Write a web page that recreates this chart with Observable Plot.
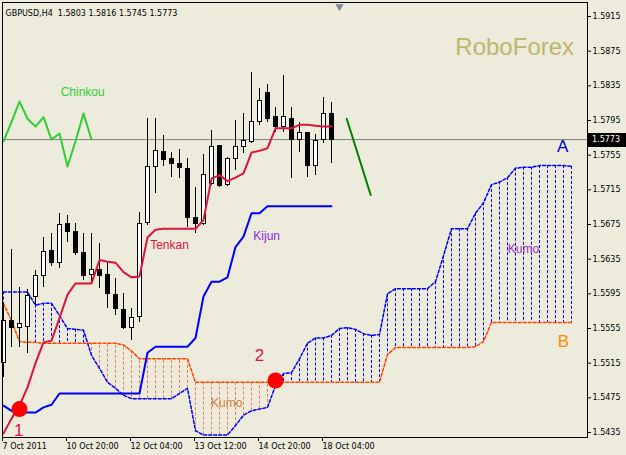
<!DOCTYPE html>
<html><head><meta charset="utf-8">
<script src="https://cdn.jsdelivr.net/npm/d3@7"></script>
<script src="https://cdn.jsdelivr.net/npm/@observablehq/plot@0.6"></script>
<style>
html,body{margin:0;padding:0;background:#ecebdc;}
#chart{width:626px;height:455px;overflow:hidden;}
</style></head><body><div id="chart"></div>
<script>
// ---------- data ----------
const symbol = "GBPUSD,H4";
const open  = [1.5515,1.5564,1.5556,1.5557,1.5591,1.5615,1.5644,1.5631,1.5676,1.5666,1.5642,1.5617,1.5622,1.5617,1.5594,1.5576,1.5556,1.5568,1.5677,1.5741,1.5759,1.5750,1.5745,1.5739,1.5683,1.5676,1.5722,1.5765,1.5721,1.5750,1.5764,1.5770,1.5793,1.5827,1.5799,1.5787,1.5797,1.5773,1.5780,1.5742,1.5773,1.5803];
const high  = [1.5584,1.5646,1.5602,1.5600,1.5622,1.5660,1.5665,1.5688,1.5685,1.5676,1.5665,1.5665,1.5653,1.5630,1.5613,1.5595,1.5578,1.5689,1.5797,1.5797,1.5778,1.5758,1.5762,1.5751,1.5718,1.5756,1.5784,1.5766,1.5752,1.5795,1.5803,1.5850,1.5832,1.5837,1.5810,1.5847,1.5810,1.5793,1.5781,1.5779,1.5822,1.5816];
const low   = [1.5499,1.5533,1.5533,1.5526,1.5582,1.5602,1.5627,1.5624,1.5654,1.5639,1.5610,1.5607,1.5601,1.5578,1.5570,1.5554,1.5541,1.5562,1.5674,1.5711,1.5742,1.5729,1.5728,1.5672,1.5665,1.5674,1.5720,1.5718,1.5719,1.5737,1.5757,1.5769,1.5789,1.5793,1.5781,1.5781,1.5728,1.5758,1.5729,1.5732,1.5768,1.5745];
const close = [1.5564,1.5556,1.5560,1.5592,1.5616,1.5643,1.5630,1.5674,1.5666,1.5642,1.5616,1.5623,1.5615,1.5595,1.5577,1.5556,1.5567,1.5676,1.5741,1.5760,1.5749,1.5745,1.5740,1.5683,1.5675,1.5732,1.5764,1.5719,1.5750,1.5764,1.5771,1.5793,1.5817,1.5797,1.5788,1.5799,1.5773,1.5780,1.5742,1.5771,1.5803,1.5773];

const tenkan = [1.5434,1.5451,1.5466,1.5487,1.5515,1.5539,1.5541,1.5567,1.5594,1.5607,1.5607,1.5607,1.5634,1.5632,1.5631,1.5620,1.5614,1.5615,1.5660,1.5669,1.5670,1.5670,1.5670,1.5670,1.5670,1.5680,1.5728,1.5732,1.5725,1.5729,1.5734,1.5758,1.5760,1.5763,1.5786,1.5786,1.5786,1.5790,1.5790,1.5789,1.5788,1.5788];
const kijun  = [1.5466,1.5460,1.5458,1.5458,1.5458,1.5464,1.5467,1.5480,1.5480,1.5480,1.5480,1.5480,1.5480,1.5480,1.5480,1.5480,1.5480,1.5480,1.5527,1.5534,1.5534,1.5534,1.5534,1.5534,1.5544,1.5592,1.5609,1.5609,1.5614,1.5649,1.5661,1.5688,1.5688,1.5696,1.5696,1.5696,1.5696,1.5696,1.5696,1.5696,1.5696,1.5696];

const senkouA = [1.5597,1.5597,1.5597,1.5597,1.5582,1.5584,1.5584,1.5570,1.5555,1.5554,1.5553,1.5524,1.5509,1.5493,1.5486,1.5478,1.5474,1.5474,1.5474,1.5474,1.5474,1.5474,1.5480,1.5486,1.5437,1.5432,1.5432,1.5432,1.5432,1.5443,1.5455,1.5460,1.5462,1.5464,1.5489,1.5503,1.5504,1.5520,1.5538,1.5544,1.5544,1.5547,1.5555,1.5556,1.5554,1.5549,1.5547,1.5548,1.5595,1.5601,1.5601,1.5601,1.5601,1.5601,1.5609,1.5639,1.5670,1.5670,1.5670,1.5688,1.5700,1.5721,1.5724,1.5729,1.5740,1.5741,1.5741,1.5743,1.5743,1.5743,1.5743,1.5742];
const senkouB = [1.5584,1.5564,1.5540,1.5539,1.5539,1.5538,1.5538,1.5538,1.5538,1.5538,1.5538,1.5538,1.5538,1.5538,1.5538,1.5536,1.5529,1.5520,1.5520,1.5520,1.5520,1.5520,1.5520,1.5520,1.5493,1.5493,1.5493,1.5493,1.5493,1.5493,1.5493,1.5493,1.5493,1.5493,1.5493,1.5493,1.5493,1.5493,1.5493,1.5493,1.5493,1.5493,1.5493,1.5493,1.5493,1.5493,1.5493,1.5493,1.5525,1.5533,1.5533,1.5533,1.5533,1.5533,1.5533,1.5533,1.5533,1.5533,1.5533,1.5534,1.5540,1.5562,1.5562,1.5562,1.5562,1.5562,1.5562,1.5562,1.5562,1.5562,1.5562,1.5562];
const chinkouShift = 30;

const trendIdx   = [42.9, 45.9];
const trendPrice = [1.5797, 1.5709];

const crossIdx   = [2, 34];
const crossPrice = [1.5462, 1.5495];

const xTickIdx    = [0, 8, 16, 24, 32, 40];
const xTickLabels = ["7 Oct 2011", "10 Oct 20:00", "12 Oct 04:00", "13 Oct 12:00", "14 Oct 20:00", "18 Oct 04:00"];
const yTicks = [1.5435,1.5475,1.5515,1.5555,1.5595,1.5635,1.5675,1.5715,1.5755,1.5795,1.5835,1.5875,1.5915];

const labelText  = ["Chinkou", "Tenkan", "Kijun", "Kumo", "Kumo", "A", "B", "1", "2", "RoboForex"];
const labelIdx   = [9.9, 20.75, 32.9, 65, 27.9, 69.9, 70, 1.9, 32, 63.9];
const labelPrice = [1.5828, 1.5651, 1.5661, 1.5646, 1.5469, 1.5765, 1.5540, 1.5437, 1.5524, 1.5879];
const shiftIdx = 42;

// ---------- styles ----------
const labelStyle = {
  "Chinkou":   {fill: "#32cd32", size: 12},
  "Tenkan":    {fill: "#dc143c", size: 12},
  "Kijun":     {fill: "#8a2be2", size: 12},
  "Kumo":      null,
  "A":         {fill: "#0000cd", size: 17},
  "B":         {fill: "#ff8c00", size: 17},
  "1":         {fill: "#dc143c", size: 17},
  "2":         {fill: "#dc143c", size: 17},
  "RoboForex": {fill: "#bdb76b", size: 24}
};
const kumoColors = ["#9932cc", "#cd853f"]; // upper-right Kumo, lower Kumo

// ---------- tables ----------
const bars = open.map((o, i) => ({i, o, h: high[i], l: low[i], c: close[i]}));
const kumo = senkouA.map((a, i) => ({i, a, b: senkouB[i]}));
const ten = tenkan.map((v, i) => ({i, v}));
const kij = kijun.map((v, i) => ({i, v}));
const chi = close.slice(chinkouShift).map((v, k) => ({i: k, v}));
const trend = trendIdx.map((x, k) => ({i: x, v: trendPrice[k]}));
const crosses = crossIdx.map((x, k) => ({i: x, v: crossPrice[k]}));
const labels = labelText.map((t, k) => ({t, i: labelIdx[k], v: labelPrice[k], k}));
const last = bars[bars.length - 1];
const header = `${symbol}\u00a0 ${last.o.toFixed(4)} ${last.h.toFixed(4)} ${last.l.toFixed(4)} ${last.c.toFixed(4)}`;

const UI = "DejaVu Sans, Tahoma, sans-serif";
const TXT = "Liberation Sans, Arial, sans-serif";

let kumoCount = 0;
const labelMarks = labels.map(d => {
  let st = labelStyle[d.t];
  if (d.t === "Kumo") { st = {fill: kumoColors[kumoCount++], size: 12}; }
  return Plot.text([d], {x: "i", y: "v", text: "t", fill: st.fill, fontSize: st.size, fontFamily: TXT});
});

const chart = Plot.plot({
  width: 626, height: 455,
  marginLeft: 2, marginRight: 39, marginTop: 2, marginBottom: 18,
  style: {background: "#ecebdc", fontFamily: UI, fontSize: "8px", color: "black"},
  x: {domain: [-0.125, 73]},
  y: {domain: [1.542923, 1.593115]},
  marks: [
    // Kumo histogram
    Plot.ruleX(kumo.filter(d => d.a >= d.b), {x: "i", y1: "a", y2: "b", stroke: "#0000ff", strokeDasharray: "3,2", clip: true}),
    Plot.ruleX(kumo.filter(d => d.a < d.b), {x: "i", y1: "a", y2: "b", stroke: "#f07a58", strokeDasharray: "3,2", clip: true}),
    Plot.line(kumo, {x: "i", y: "a", stroke: "#0000ff", strokeDasharray: "3,2", clip: true}),
    Plot.line(kumo, {x: "i", y: "b", stroke: "#ff4500", strokeDasharray: "3,2", clip: true}),
    // current price line
    Plot.ruleY([last.c], {stroke: "#808080"}),
    // candles
    Plot.ruleX(bars, {x: "i", y1: "l", y2: "h", stroke: "black", shapeRendering: "crispEdges"}),
    Plot.rect(bars.filter(d => d.c >= d.o), {x1: d => d.i - 0.25, x2: d => d.i + 0.25, y1: "o", y2: "c", fill: "white", stroke: "black", shapeRendering: "crispEdges"}),
    Plot.rect(bars.filter(d => d.c < d.o), {x1: d => d.i - 0.25, x2: d => d.i + 0.25, y1: "o", y2: "c", fill: "black", stroke: "black", shapeRendering: "crispEdges"}),
    // Ichimoku lines
    Plot.line(ten, {x: "i", y: "v", stroke: "#dc143c", strokeWidth: 2, clip: true}),
    Plot.line(kij, {x: "i", y: "v", stroke: "#0000ff", strokeWidth: 2, clip: true}),
    Plot.line(chi, {x: "i", y: "v", stroke: "#32cd32", strokeWidth: 2, clip: true}),
    // trend line
    Plot.line(trend, {x: "i", y: "v", stroke: "#008000", strokeWidth: 2}),
    // crosses
    Plot.dot(crosses, {x: "i", y: "v", r: 8, fill: "#ff0000"}),
    // labels
    ...labelMarks,
    // header
    Plot.text([header], {frameAnchor: "top-left", dx: 3, dy: 11, lineAnchor: "middle", textAnchor: "start", fill: "black", fontSize: 8, fontFamily: UI}),
    // axes
    Plot.axisY(yTicks, {anchor: "right", tickSize: 3, tickPadding: 2, tickFormat: d => d.toFixed(4), label: null, fontSize: 8, fontFamily: UI}),
    Plot.axisX(xTickIdx, {anchor: "bottom", tickSize: 4, tickPadding: 2, tickFormat: (d, k) => xTickLabels[xTickIdx.indexOf(d)], textAnchor: "start", dx: -1, label: null, fontSize: 8, fontFamily: UI}),
    Plot.frame({stroke: "black"}),
    // chart shift marker
    Plot.dot([shiftIdx], {x: d => d, frameAnchor: "top", symbol: "triangle", rotate: 180, r: 3, fill: "#7b8898", dy: 4})
  ]
});

document.getElementById("chart").appendChild(chart);

// current price tag on the axis
const ys = chart.scale("y");
const yp = ys.apply(last.c) + 0.5;
const svg = d3.select(chart);
svg.append("rect").attr("x", 588).attr("y", Math.round(yp - 7)).attr("width", 40).attr("height", 14).attr("fill", "black");
svg.append("text").attr("x", 592).attr("y", yp).attr("dy", "0.32em").attr("text-anchor", "start")
  .attr("fill", "white").attr("font-family", UI).attr("font-size", 8).text(last.c.toFixed(4));
</script>
</body></html>
